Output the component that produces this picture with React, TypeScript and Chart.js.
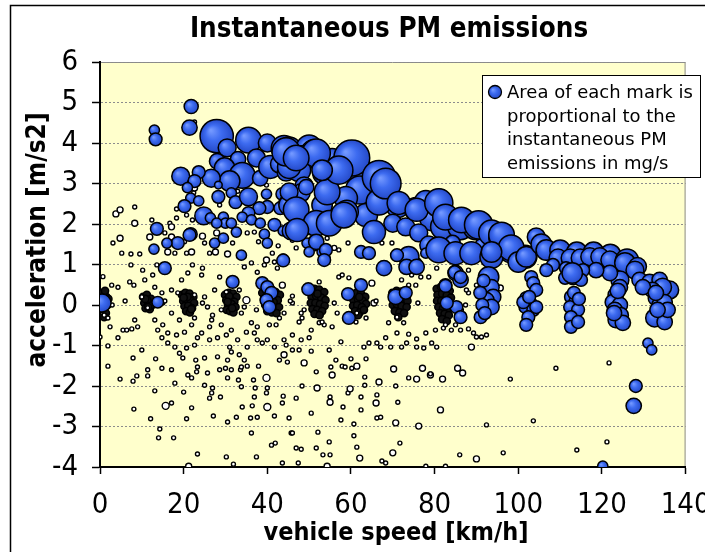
import React, { useEffect, useRef } from "react";
import { Chart, registerables } from "chart.js";

Chart.register(...registerables);

const TITLE = "Instantaneous PM emissions";
const X_TITLE = "vehicle speed [km/h]";
const Y_TITLE = "acceleration [m/s2]";
const LEGEND_LINES = ["Area of each mark is", "proportional to the", "instantaneous PM", "emissions in mg/s"];

const SPEED_MIN = 0;
const SPEED_MAX = 140;
const SPEED_STEP = 20;
const ACCEL_MIN = -4;
const ACCEL_MAX = 6;
const ACCEL_STEP = 1;

// [vehicle speed km/h, acceleration m/s2, mark radius] — high instantaneous PM (filled marks)
const HIGH_PM: number[][] = [
  [21.8, 4.9, 5.5], [21.4, 4.38, 6], [13.0, 4.32, 4], [13.3, 4.09, 5],
  [27.9, 4.17, 13], [30.4, 3.88, 7], [35.5, 4.07, 10], [40, 4.0, 7], [44, 3.87, 10], [37.4, 3.63, 7],
  [33, 3.6, 6], [28, 3.55, 6], [29.8, 3.38, 8], [34, 3.2, 10], [31, 3.06, 8], [38.3, 3.13, 6],
  [40.7, 3.41, 9], [42.9, 3.48, 7], [44.5, 3.28, 7], [26.6, 3.13, 7], [19.3, 3.18, 7], [23.6, 3.28, 5],
  [22.6, 3.06, 5], [20.9, 2.9, 4], [28.3, 2.96, 3], [21.7, 2.64, 4], [23.6, 2.57, 4], [20.2, 2.44, 5],
  [24.8, 2.2, 7], [28.3, 2.67, 5], [31.4, 2.77, 4], [32.4, 2.54, 5], [35.5, 2.67, 7], [39.8, 2.74, 4],
  [43.6, 2.74, 5], [44.8, 2.49, 7], [43.1, 2.39, 5], [40, 2.42, 5], [38.1, 2.39, 5], [35.5, 2.27, 5],
  [34, 2.17, 4], [26.4, 2.15, 4], [29.5, 2.17, 4], [30, 2.02, 4], [27.9, 2.02, 4], [31.4, 2.02, 4],
  [36.2, 2.1, 4], [38.3, 2.02, 4], [41.7, 1.98, 5], [43.8, 1.83, 4], [45.7, 1.83, 7], [13.6, 1.88, 5],
  [21.7, 1.75, 5], [18.6, 1.53, 5], [16, 1.53, 4], [12.9, 1.38, 4], [27.4, 1.53, 4], [29.5, 1.65, 4],
  [32.6, 1.8, 4], [39.3, 1.75, 4], [40, 1.53, 4], [33.8, 1.23, 4], [43.8, 1.13, 4], [21.4, 1.73, 5],
  [45.2, 3.83, 10], [50, 3.88, 10], [51.2, 3.73, 11], [48.3, 3.65, 9], [55.5, 3.58, 9], [57.8, 3.38, 11],
  [60.7, 3.6, 12], [61.9, 3.33, 10], [53.6, 3.26, 9], [47.6, 3.33, 9], [45.2, 3.41, 9], [66.2, 3.04, 11],
  [62.1, 2.84, 11], [67.4, 2.79, 9], [54.3, 2.77, 9], [48.8, 2.94, 7], [48.1, 2.77, 7], [58.8, 2.64, 9],
  [66.7, 2.52, 9], [71.2, 2.44, 9], [75.5, 2.37, 9], [77.9, 2.54, 9], [81, 2.54, 10], [79.5, 2.15, 10],
  [82.1, 1.93, 10], [86.2, 1.93, 10], [89.8, 1.93, 10], [92.1, 1.8, 9], [63.6, 2.22, 9], [59, 2.3, 9],
  [53.1, 2.47, 8], [45.2, 2.47, 8], [47.1, 2.35, 7], [54.3, 2.02, 9], [50.7, 1.98, 8], [46.9, 1.85, 8],
  [65.5, 1.83, 8], [70, 2.02, 7], [73.1, 1.93, 7], [76.2, 1.78, 7], [78.6, 1.48, 7], [81, 1.36, 8],
  [84.3, 1.53, 6], [88.1, 1.28, 7], [91.2, 1.48, 5], [62.4, 1.31, 5], [64.5, 1.28, 4], [51.4, 1.53, 6],
  [49.5, 1.53, 4], [50, 1.31, 4], [53.1, 1.31, 4], [53.8, 1.16, 4], [71, 1.21, 4], [75.7, 1.04, 4],
  [77.9, 1.28, 4],
  [60.2, 3.63, 14], [66.7, 3.16, 13], [66.7, 2.54, 10], [65.5, 1.8, 9], [54.3, 2.79, 10], [57.1, 3.33, 11],
  [51.7, 3.75, 11], [44.5, 3.78, 11], [46.9, 3.63, 10], [53.1, 3.33, 8], [49.3, 2.91, 6], [45.2, 2.79, 7],
  [46.9, 2.35, 10], [51.7, 2.02, 10], [54.8, 2.02, 10], [58.3, 2.22, 10], [47.1, 1.85, 9], [51.7, 1.56, 6],
  [54, 1.36, 5], [64.3, 1.28, 5], [67.9, 0.91, 5],
  [68.3, 3.0, 12], [71.4, 2.52, 9], [75.7, 2.35, 9], [81, 2.52, 11], [82.6, 2.17, 10], [86.4, 2.1, 10],
  [90.5, 1.98, 11], [93.6, 1.78, 10], [96, 1.68, 10], [98.3, 1.36, 10], [101.7, 1.19, 9], [81, 1.36, 10],
  [85, 1.28, 9], [88.8, 1.28, 9], [93.6, 1.19, 9], [73.8, 1.19, 8], [71, 1.23, 5], [73.3, 0.94, 6],
  [75.7, 0.94, 6], [85, 0.79, 6], [86.2, 0.62, 6], [92.9, 0.69, 8], [93.6, 0.44, 6], [94, 0.2, 6],
  [92.4, 0.12, 6], [93.6, -0.05, 6], [91, -0.3, 5], [85.2, -0.05, 5], [86.2, -0.3, 5], [82.9, 0.05, 5],
  [82.6, 0.49, 5], [70.7, 0.2, 6],
  [96, 1.73, 10], [98.3, 1.41, 10], [93.6, 1.31, 8], [100, 1.06, 8], [101.9, 1.19, 8], [104.3, 1.68, 7],
  [105.5, 1.5, 8], [106.7, 1.36, 8], [110, 1.35, 8], [109.5, 1.16, 7], [114, 1.3, 8], [112.4, 1.16, 7],
  [118, 1.3, 8], [114.8, 1.16, 7], [122, 1.25, 8], [117.1, 1.19, 7], [119.5, 1.19, 7], [121.9, 1.11, 7],
  [126, 1.1, 9], [125.5, 1.04, 8], [128.5, 0.95, 7], [127.9, 0.86, 7], [129, 0.62, 6], [131.4, 0.57, 6],
  [133.8, 0.62, 6], [136.2, 0.37, 7], [134.5, 0.44, 7], [132.1, 0.37, 6], [129.8, 0.44, 6], [124.3, 0.62, 7],
  [121.9, 0.79, 6], [118.6, 0.86, 6], [115.5, 0.86, 5], [111.4, 0.91, 5], [108.3, 0.99, 5], [106.7, 0.86, 5],
  [113.1, 0.69, 6], [115, 0.62, 5], [111.2, 0.67, 5], [112.9, 0.79, 8],
  [103.1, 0.69, 5], [103.6, 0.54, 5], [104.3, 0.37, 5], [101.9, 0.17, 5], [102.9, 0.05, 5], [101.7, -0.05, 5],
  [103.6, -0.12, 5], [102.4, -0.3, 5], [101.9, -0.49, 5], [104.3, -0.05, 5], [101.2, 0.07, 5], [102.6, 0.2, 5],
  [112.6, 0.2, 5], [113.6, 0.07, 5], [112.4, -0.05, 5], [114.3, -0.12, 5], [112.6, -0.3, 5], [112.6, -0.54, 5],
  [114.3, -0.42, 5], [113.3, 0.3, 5], [114.5, 0.15, 5],
  [123.3, 0.25, 6], [122.6, 0.07, 6], [124.3, 0, 6], [123.1, -0.12, 6], [124.5, -0.25, 6], [123.3, -0.37, 6],
  [125, -0.44, 6], [122.9, -0.2, 6], [124.3, 0.44, 6], [123.8, 0.35, 6],
  [132.9, 0.17, 6], [133.8, 0, 6], [135, 0.07, 6], [132.6, -0.32, 7], [135, -0.42, 6], [135.7, -0.12, 6],
  [133.3, -0.12, 6], [132.9, 0.3, 6],
  [131, -0.94, 4], [131.9, -1.11, 4], [128.1, -2.0, 5], [127.6, -2.49, 6], [120.2, -3.98, 4],
  [0.5, 0.05, 7], [13.8, 0.07, 4.5], [15.5, 0.91, 5], [31.7, 0.57, 5], [38.8, 0.54, 5], [40, 0.44, 5],
  [41, 0.3, 5], [39.8, 0.12, 5], [40.5, -0.05, 5], [43.8, 1.1, 5], [49.8, 0.39, 5], [59.3, 0.27, 5],
  [62.4, 0.49, 5], [59.5, -0.32, 5], [73.1, 0.3, 5], [82.6, 0.47, 5], [67.9, 0.91, 6],
  [84.8, 0.81, 5], [86.2, 0.69, 5], [53.6, 1.11, 5], [91.7, 0.6, 5], [90.9, 0.3, 5], [91.4, 0.0, 5],
  [92, -0.2, 5],
];

// [vehicle speed km/h, acceleration m/s2, mark radius] — low instantaneous PM (open marks)
const LOW_PM: number[][] = [
  [0.7, 0.7, 2], [2.8, 0.49, 2], [4.3, 0.44, 2], [7.4, 0.99, 2], [7.1, 0.57, 2], [8.1, 0.49, 2],
  [10.2, 0.86, 2], [10.7, 0.62, 2], [12.6, 0.74, 2], [13.6, 0.99, 2], [10, 0.2, 2], [11.4, -0.07, 2],
  [8.3, -0.37, 2], [9, -0.54, 2], [5.5, -0.62, 2], [6.4, -0.62, 2], [2.4, -0.54, 2], [1.9, -0.32, 2],
  [1, -0.25, 2], [0, -0.79, 2], [1.9, -1.01, 2], [4.3, -0.81, 2], [7.6, -0.59, 2], [10, -1.11, 2],
  [1.9, -1.51, 2], [7.9, -1.31, 2], [4.8, -1.83, 2], [7.9, -1.88, 2], [8.8, -1.75, 2], [11.4, -1.6, 2],
  [13.3, -1.33, 2], [14.8, -1.56, 2], [11.4, -1.75, 2], [17.9, -1.93, 2], [13.1, -2.12, 2], [15.7, -2.49, 3.5],
  [17.1, -2.42, 2], [8.1, -2.57, 2], [12.1, -2.81, 2], [14.3, -3.06, 2], [14, -3.28, 2], [17.6, -3.28, 2],
  [20.7, -2.81, 2], [21.9, -2.54, 2], [23.3, -3.68, 2], [21.2, -3.98, 3], [26.2, -2.3, 2], [26.7, -2.17, 2],
  [27.1, -2.74, 2], [28.8, -2.27, 2], [30.5, -2.89, 2], [32.6, -2.77, 2], [30.2, -3.75, 2], [31.9, -3.93, 2],
  [36.2, -3.16, 2], [36, -2.79, 2], [36.4, -2.49, 2], [37.6, -2.77, 2], [40, -2.52, 3.5], [41.7, -2.74, 2],
  [41, -3.46, 2], [41.9, -3.41, 2], [37.4, -3.75, 2], [43.6, -3.9, 2], [45.7, -3.16, 2], [43.6, -2.42, 2],
  [43.8, -2.25, 2], [39.8, -2.17, 2], [40, -2.05, 2], [37.1, -2.05, 2], [36.7, -1.85, 2], [39.8, -1.8, 3.5],
  [33.8, -2.02, 2], [30.5, -1.8, 2], [33.1, -1.85, 2], [31.4, -1.6, 2], [33.6, -1.6, 2], [30, -1.56, 2],
  [26.9, -2.05, 2], [25.7, -1.68, 2], [23.1, -1.65, 2], [21.9, -1.8, 2], [21, -1.73, 2], [25, -1.98, 2],
  [17.1, -1.6, 2], [20, -2.15, 2], [25, -1.31, 2], [23.3, -1.53, 2], [22.9, -1.36, 2], [28.1, -1.28, 2],
  [30.5, -1.36, 2], [28.6, -1.6, 2], [33.8, -1.53, 2], [35.2, -1.51, 2], [37.9, -1.51, 2], [42.9, -1.36, 2],
  [44.8, -1.41, 2], [44.5, -0.99, 2], [44, -1.23, 3], [41.7, -1.04, 2], [40, -0.86, 2], [38.8, -0.94, 2],
  [37.6, -0.86, 2], [36.9, -0.69, 2], [35.2, -1.04, 2], [33.3, -1.23, 2], [34.5, -1.36, 2], [32.9, -0.86, 2],
  [31, -1.04, 2], [31.4, -1.16, 2], [30.2, -0.74, 2], [28.1, -0.81, 2], [26.2, -0.86, 2], [23.3, -0.81, 2],
  [22.6, -0.99, 2], [20.7, -1.06, 2], [19.8, -1.31, 2], [19, -1.19, 2], [17.9, -1.04, 2], [16.2, -0.94, 2],
  [14.8, -0.81, 2], [13.8, -0.62, 2], [15, -0.49, 2], [13.1, -0.37, 2], [16.2, -0.69, 2], [18.3, -0.74, 2],
  [20.2, -0.67, 2], [21.9, -0.49, 2], [24.3, -0.69, 2], [26.2, -0.54, 2], [26.7, -0.37, 2], [26.9, -0.25, 2],
  [29, -0.49, 2], [31.4, -0.62, 2], [35, -0.67, 2], [36.2, -0.44, 2], [37.6, -0.54, 2], [42.1, -0.49, 2],
  [44, -0.86, 2], [22.6, -0.32, 2], [19, -0.37, 2], [17.1, -0.2, 2], [15, 0.05, 2], [14.8, 0.3, 2],
  [13.1, 0.44, 2], [17.1, 0.37, 2], [18.6, 0.3, 2], [19.5, 0.62, 2], [21, 0.79, 2], [22.1, 0.99, 2],
  [24.3, 0.74, 2], [24.5, 0.91, 2], [22.6, 0.25, 2], [25, 0.2, 2], [25.7, -0.05, 2], [27.4, 0.37, 2],
  [28.6, 0.69, 2], [30.2, 0.32, 2], [29, -0.12, 2], [33.8, -0.2, 2], [35, 0.12, 3.5], [33.3, 0.37, 2],
  [34.5, 0.94, 2], [36.2, 1.04, 2], [37.6, 0.81, 2], [39.3, 0.99, 2], [41.7, 1.06, 2], [42.4, 0.91, 2],
  [43.6, 0.49, 3], [37.4, -0.12, 2], [40.5, -0.49, 2], [42.9, -0.32, 2], [44, -0.2, 2], [36.9, -2.27, 2],
  [34, -2.52, 2],
  [46, 0.22, 2], [46, 0.05, 2], [48.1, -0.2, 2], [48.8, -0.12, 2], [47.6, -0.42, 2], [48.3, -0.32, 2],
  [52.4, 0.57, 2], [57.1, 0.69, 2], [57.9, 0.74, 2], [59.5, 0.67, 2], [56.7, -0.2, 2], [53.6, -0.49, 2],
  [52.4, -0.44, 2], [50.5, -0.62, 2], [50, -0.81, 2], [46, -0.74, 2], [48.1, -0.86, 2], [46, -1.11, 2],
  [47.6, -1.11, 2], [50.5, -1.14, 2], [54.8, -1.11, 2], [57.6, -0.91, 2], [63.1, -1.04, 2], [64.3, -0.94, 2],
  [67.1, -1.04, 2], [66.2, -0.94, 2], [68.3, -0.81, 2], [69.5, -1.04, 2], [71, -0.69, 2], [72.1, -1.04, 2],
  [73.3, -0.94, 2], [73.8, -0.72, 2], [75.7, -0.84, 2], [75.7, -1.04, 2], [77.4, -1.06, 2], [77.9, -0.69, 2],
  [79.3, -0.94, 2], [80.5, -1.04, 2], [80.2, -0.62, 2], [82.1, -0.57, 2], [84, -0.62, 2], [86.2, -0.62, 2],
  [88.1, -0.59, 2], [89.3, -0.69, 2], [90, -0.79, 2], [88.8, -1.04, 3], [85, -0.49, 2], [55.5, -0.54, 2],
  [53.1, -0.42, 2], [61.2, -0.42, 2], [63.6, -0.32, 2], [61.4, -0.2, 2], [65.5, 0.05, 3], [65, 0.54, 3],
  [69, -0.44, 2], [72.6, -0.44, 2], [71, -0.3, 2], [74.5, 0.74, 2], [73.8, 0.49, 2], [75.5, 0.49, 2],
  [72.1, 0.62, 2], [76.7, 0.69, 2], [78.6, 0.69, 2], [80.5, 0.91, 2], [88.1, 0.86, 2], [88.1, 0.3, 2],
  [87.4, 0, 2], [86.4, -0.12, 2], [82.6, -0.49, 2], [48.8, -1.43, 3], [51.7, -1.65, 2], [55.2, -1.53, 2],
  [55.5, -1.73, 3], [56.4, -1.36, 2], [57.9, -1.51, 2], [58.6, -1.53, 2], [60.2, -1.56, 2], [60, -1.33, 2],
  [61.4, -1.51, 3], [63.6, -1.33, 2], [63.3, -1.78, 2], [63.3, -1.98, 2], [66.7, -1.9, 3], [70.2, -1.58, 3],
  [73.8, -1.8, 2], [75.7, -1.83, 3], [77.1, -1.56, 3], [79, -1.73, 3], [81.9, -1.83, 3], [85.5, -1.56, 3],
  [86.7, -1.68, 3], [48.3, -2.0, 2], [51.9, -2.05, 3], [46.9, -2.3, 2], [55, -2.27, 2], [55, -2.4, 3],
  [59.3, -2.17, 2], [59.8, -2.07, 3], [62.4, -2.27, 2], [66.2, -2.22, 2], [66, -2.42, 3], [71.2, -2.4, 2],
  [70.7, -2.0, 2], [81.4, -2.59, 3], [58.1, -2.52, 2], [62.4, -2.59, 2], [66.2, -2.79, 2], [67.1, -2.77, 2],
  [50.5, -2.67, 2], [45.2, -2.79, 2], [57.6, -2.84, 2], [60.7, -2.94, 2], [70.7, -2.91, 3], [76.2, -2.99, 3],
  [92.4, -2.96, 2], [46, -3.16, 2], [52.1, -3.14, 2], [60.7, -3.23, 2], [54.8, -3.38, 2], [46.9, -3.53, 2],
  [48.1, -3.56, 2], [51.7, -3.53, 2], [61.4, -3.51, 2], [71.7, -3.41, 2], [70, -3.65, 3], [53.3, -3.7, 2],
  [55, -3.7, 2], [62.1, -3.78, 3], [67.4, -3.85, 2], [68.3, -3.9, 2], [47.4, -3.9, 2], [54.3, -3.98, 3],
  [77.9, -3.98, 2], [82.6, -3.98, 2], [86, -3.7, 2], [90, -3.8, 3],
  [56, 1.41, 2.5], [57.1, 1.36, 2], [59.3, 1.53, 2], [67.4, 1.53, 2], [69.8, 1.53, 2], [46, 1.6, 2],
  [46.9, 1.41, 2], [54.3, 1.65, 2],
  [3.8, 2.25, 3], [4.8, 2.35, 3], [8.3, 2.42, 2], [8.3, 2.02, 3], [4.8, 1.65, 3], [3.1, 1.53, 2],
  [7.4, 1.26, 2], [5.2, 1.28, 2], [9.5, 1.26, 2], [11.9, 1.68, 3], [12.4, 2.1, 2], [18.3, 2.37, 2],
  [20.7, 2.22, 2], [22.1, 2.1, 2], [16.7, 2.02, 2], [17.1, 1.93, 3], [15.5, 1.78, 2], [17.1, 1.68, 3],
  [20.2, 1.56, 2], [16.2, 1.31, 3], [17.9, 1.28, 2], [20.7, 1.28, 2], [21.9, 1.31, 3], [24.5, 1.7, 3],
  [25, 1.53, 2], [26.2, 1.28, 2], [27.9, 1.78, 3], [28.1, 1.58, 2], [27.6, 1.31, 3], [30.5, 1.26, 3],
  [31.7, 1.53, 2], [35.2, 1.78, 2], [36.9, 1.8, 2], [37.9, 1.56, 2], [41.2, 1.28, 2], [42.6, 1.46, 2],
  [39.8, 1.11, 3], [22.4, 2.77, 2], [22.6, 2.89, 3], [18.3, 2.15, 2], [28.6, 2.47, 2], [32.9, 2.81, 2],
  [39.8, 2.96, 2], [22.6, 4.52, 2],
  [79, -1.7, 2], [98.1, -1.83, 2], [109, -1.56, 2], [121.7, -1.43, 2], [103.6, -2.86, 2], [96.4, -3.65, 2],
  [114, -3.58, 2], [121.2, -3.38, 2], [81.7, 1.53, 2], [87.6, 0.37, 2], [90, 0.49, 2], [91.2, -0.79, 2],
  [92.4, -0.74, 2], [95.7, 0.42, 3], [112.4, -0.42, 3],
  [2.9, 0.0, 2], [6.0, 0.1, 2], [15.5, 0.1, 2], [24.5, 0.05, 2], [34.5, -0.05, 2], [45.5, 0.1, 2],
  [56, 0.05, 2], [66, 0.1, 2], [76, 0.05, 2],
];

// [vehicle speed km/h, acceleration m/s2, mark radius] — dense steady-speed readings (overlapping marks)
const STEADY_PM: number[][] = [
  [0.5, 0.3, 2.5], [1.5, 0.2, 2.5], [0.8, 0.1, 2.5], [1.8, 0.0, 2.5], [0.6, -0.1, 2.5], [1.4, -0.2, 2.5],
  [2.0, 0.15, 2.5], [1.0, -0.3, 2.5], [0.3, 0.0, 2.5], [1.2, 0.35, 2.5],
  [10.3, 0.2, 2.5], [11.2, 0.25, 2.5], [12.2, 0.15, 2.5], [10.6, 0.05, 2.5], [11.6, 0.05, 2.5], [12.5, 0.0, 2.5],
  [10.9, -0.08, 2.5], [11.9, -0.1, 2.5], [11.3, 0.12, 2.5], [12.0, -0.02, 2.5], [10.8, 0.15, 2.5], [11.5, -0.05, 2.5],
  [19.6, 0.25, 2.5], [20.4, 0.3, 2.5], [21.4, 0.28, 2.5], [22.3, 0.2, 2.5], [19.9, 0.1, 2.5], [20.8, 0.12, 2.5],
  [21.7, 0.1, 2.5], [22.5, 0.05, 2.5], [20.2, -0.03, 2.5], [21.1, -0.02, 2.5], [22.0, -0.08, 2.5], [20.6, -0.15, 2.5],
  [21.5, -0.18, 2.5], [20.9, 0.2, 2.5], [21.8, -0.1, 2.5], [20.0, 0.18, 2.5],
  [29.9, 0.25, 2.5], [30.8, 0.3, 2.5], [31.8, 0.28, 2.5], [32.6, 0.2, 2.5], [30.2, 0.12, 2.5], [31.2, 0.15, 2.5],
  [32.1, 0.08, 2.5], [30.6, 0.0, 2.5], [31.5, 0.02, 2.5], [32.4, -0.05, 2.5], [30.3, -0.12, 2.5], [31.1, -0.15, 2.5],
  [31.9, -0.18, 2.5], [30.9, 0.22, 2.5], [31.6, -0.08, 2.5], [30.5, 0.08, 2.5],
  [38.8, 0.3, 2.5], [39.8, 0.35, 2.5], [40.9, 0.4, 2.5], [42.0, 0.32, 2.5], [43.0, 0.25, 2.5], [39.2, 0.15, 2.5],
  [40.3, 0.2, 2.5], [41.4, 0.18, 2.5], [42.5, 0.12, 2.5], [39.5, 0.0, 2.5], [40.6, 0.02, 2.5], [41.7, -0.02, 2.5],
  [42.8, -0.05, 2.5], [40.0, -0.15, 2.5], [41.1, -0.18, 2.5], [42.2, -0.2, 2.5], [41.5, 0.08, 2.5], [40.5, 0.1, 2.5],
  [50.3, 0.35, 2.5], [51.3, 0.4, 2.5], [52.4, 0.38, 2.5], [53.6, 0.32, 2.5], [50.6, 0.2, 2.5], [51.7, 0.22, 2.5],
  [52.9, 0.18, 2.5], [53.9, 0.12, 2.5], [50.4, 0.05, 2.5], [51.5, 0.05, 2.5], [52.6, 0.02, 2.5], [53.7, -0.02, 2.5],
  [50.8, -0.1, 2.5], [51.9, -0.12, 2.5], [53.1, -0.15, 2.5], [51.3, -0.22, 2.5], [52.5, -0.25, 2.5], [52.0, 0.28, 2.5],
  [60.3, 0.25, 2.5], [61.3, 0.3, 2.5], [62.4, 0.28, 2.5], [63.4, 0.2, 2.5], [60.6, 0.12, 2.5], [61.7, 0.14, 2.5],
  [62.8, 0.1, 2.5], [63.6, 0.03, 2.5], [60.5, -0.02, 2.5], [61.5, 0.0, 2.5], [62.6, -0.05, 2.5], [61.0, -0.15, 2.5],
  [62.1, -0.18, 2.5], [63.1, -0.12, 2.5], [61.7, -0.25, 2.5], [62.0, 0.2, 2.5],
  [69.9, 0.3, 2.5], [70.9, 0.35, 2.5], [72.0, 0.33, 2.5], [73.2, 0.28, 2.5], [70.2, 0.15, 2.5], [71.3, 0.18, 2.5],
  [72.4, 0.14, 2.5], [73.5, 0.1, 2.5], [70.0, 0.0, 2.5], [71.0, 0.02, 2.5], [72.1, -0.02, 2.5], [73.3, -0.05, 2.5],
  [70.5, -0.15, 2.5], [71.6, -0.18, 2.5], [72.7, -0.2, 2.5], [71.3, -0.3, 2.5], [71.8, 0.25, 2.5],
  [80.5, 0.4, 2.5], [81.5, 0.45, 2.5], [82.6, 0.42, 2.5], [83.6, 0.35, 2.5], [80.7, 0.25, 2.5], [81.8, 0.28, 2.5],
  [82.9, 0.24, 2.5], [83.9, 0.18, 2.5], [80.6, 0.1, 2.5], [81.6, 0.1, 2.5], [82.7, 0.06, 2.5], [83.7, 0.02, 2.5],
  [80.9, -0.05, 2.5], [82.0, -0.08, 2.5], [83.1, -0.1, 2.5], [81.3, -0.2, 2.5], [82.4, -0.22, 2.5], [83.4, -0.25, 2.5],
  [81.8, -0.35, 2.5], [82.9, -0.4, 2.5],
];

const TICK_FONT = '"Liberation Sans Narrow", "DejaVu Sans Condensed", "DejaVu Sans", sans-serif';
const TEXT_FONT = '"DejaVu Sans Condensed", "DejaVu Sans", sans-serif';
const LEGEND_FONT = '"DejaVu Sans", sans-serif';
const HIGH_SCALE = 1.28;
const STEADY_SCALE = 1.45;

const toPoints = (rows: number[][], k = 1) => rows.map(([x, y, r]) => ({ x, y, r: r * k }));

function blueFill(ctx: CanvasRenderingContext2D, x: number, y: number, r: number) {
  const g = ctx.createRadialGradient(x - r * 0.35, y - r * 0.35, r * 0.05, x, y, r);
  g.addColorStop(0, "#7398ff");
  g.addColorStop(0.45, "#3d6bf0");
  g.addColorStop(1, "#2449c8");
  return g;
}

const decorPlugin = {
  id: "decor",
  beforeDraw(chart: any) {
    const { ctx, chartArea: a } = chart;
    ctx.save();
    ctx.fillStyle = "#ffffff";
    ctx.fillRect(0, 0, chart.width, chart.height);
    ctx.fillStyle = "#FFFFCC";
    ctx.fillRect(a.left, a.top, a.right - a.left, a.bottom - a.top);
    ctx.strokeStyle = "#8a8a8a";
    ctx.lineWidth = 1;
    ctx.beginPath();
    ctx.moveTo(a.left, a.top + 0.5);
    ctx.lineTo(a.right - 0.5, a.top + 0.5);
    ctx.lineTo(a.right - 0.5, a.bottom);
    ctx.stroke();
    ctx.restore();
  },
  afterDraw(chart: any) {
    const { ctx } = chart;
    ctx.save();
    ctx.strokeStyle = "#000";
    ctx.lineWidth = 1.5;
    ctx.beginPath();
    ctx.moveTo(10.5, chart.height);
    ctx.lineTo(10.5, 5.5);
    ctx.lineTo(chart.width, 5.5);
    ctx.stroke();
    ctx.fillStyle = "#000";
    ctx.textAlign = "center";
    ctx.textBaseline = "middle";
    ctx.font = `bold 27.5px ${TEXT_FONT}`;
    ctx.fillText(TITLE, 389, 30);
    ctx.font = `bold 25px ${TEXT_FONT}`;
    ctx.fillText(X_TITLE, 396, 533);
    ctx.save();
    ctx.translate(38, 240);
    ctx.rotate(-Math.PI / 2);
    ctx.font = `bold 26px ${TEXT_FONT}`;
    ctx.fillText(Y_TITLE, 0, 0);
    ctx.restore();
    const lx = 482.5, ly = 75.5, lw = 218, lh = 102;
    ctx.fillStyle = "#fff";
    ctx.fillRect(lx, ly, lw, lh);
    ctx.strokeStyle = "#000";
    ctx.lineWidth = 1;
    ctx.strokeRect(lx, ly, lw, lh);
    ctx.beginPath();
    ctx.arc(495, 92, 6.5, 0, Math.PI * 2);
    ctx.fillStyle = blueFill(ctx, 495, 92, 6.5);
    ctx.fill();
    ctx.lineWidth = 1.3;
    ctx.stroke();
    ctx.fillStyle = "#000";
    ctx.textAlign = "left";
    ctx.textBaseline = "alphabetic";
    ctx.font = `18px ${LEGEND_FONT}`;
    LEGEND_LINES.forEach((t, i) => ctx.fillText(t, 507, 98 + i * 23.5));
    ctx.restore();
  },
};

export default function App() {
  const ref = useRef<HTMLCanvasElement | null>(null);
  useEffect(() => {
    if (!ref.current) return;
    const chart = new Chart(ref.current, {
      type: "bubble",
      data: {
        datasets: [
          {
            label: "high PM",
            data: toPoints(HIGH_PM, HIGH_SCALE),
            backgroundColor: (c: any) => {
              const raw = c.raw;
              const ch = c.chart;
              if (!raw || !ch.scales || !ch.scales.x || !ch.scales.y) return "#3463ea";
              const x = ch.scales.x.getPixelForValue(raw.x);
              const y = ch.scales.y.getPixelForValue(raw.y);
              if (!isFinite(x) || !isFinite(y) || !isFinite(raw.r)) return "#3463ea";
              return blueFill(ch.ctx, x, y, raw.r);
            },
            borderColor: "#000",
            borderWidth: 1.5,
            clip: 0,
          },
          {
            label: "low PM",
            data: toPoints(LOW_PM),
            backgroundColor: "#ffffff",
            borderColor: "#000",
            borderWidth: 1.4,
            clip: 0,
          },
          {
            label: "steady",
            data: toPoints(STEADY_PM, STEADY_SCALE),
            backgroundColor: "#111111",
            borderColor: "#000",
            borderWidth: 1.5,
            clip: 0,
          },
        ],
      },
      options: {
        animation: false,
        responsive: false,
        events: [],
        layout: { padding: { top: 62, left: 10, right: 17, bottom: 0 } },
        plugins: { legend: { display: false }, tooltip: { enabled: false }, title: { display: false } },
        scales: {
          x: {
            type: "linear",
            min: SPEED_MIN,
            max: SPEED_MAX,
            ticks: { stepSize: SPEED_STEP, color: "#000", font: { family: TICK_FONT, size: 29 }, padding: 14, maxRotation: 0, autoSkip: false },
            grid: { drawOnChartArea: false, tickLength: 7, tickColor: "#000", tickWidth: 1.5 },
            border: { color: "#000", width: 2 },
            afterFit: (s: any) => { s.height = 85; s.paddingLeft = 0; s.paddingRight = 0; },
          },
          y: {
            type: "linear",
            min: ACCEL_MIN,
            max: ACCEL_MAX,
            ticks: { stepSize: ACCEL_STEP, color: "#000", font: { family: TICK_FONT, size: 29 }, padding: 14 },
            grid: { color: "#8c8c8c", lineWidth: 1, tickLength: 8, tickColor: "#000", tickWidth: 1.5 },
            border: { color: "#000", width: 2, dash: [2, 2] },
            afterFit: (s: any) => { s.width = 90; s.paddingTop = 0; s.paddingBottom = 0; },
          },
        },
      } as any,
      plugins: [decorPlugin],
    });
    return () => chart.destroy();
  }, []);
  return (
    <div style={{ position: "fixed", left: 0, top: 0, width: 705, height: 552 }}>
      <canvas ref={ref} width={705} height={552} />
    </div>
  );
}
